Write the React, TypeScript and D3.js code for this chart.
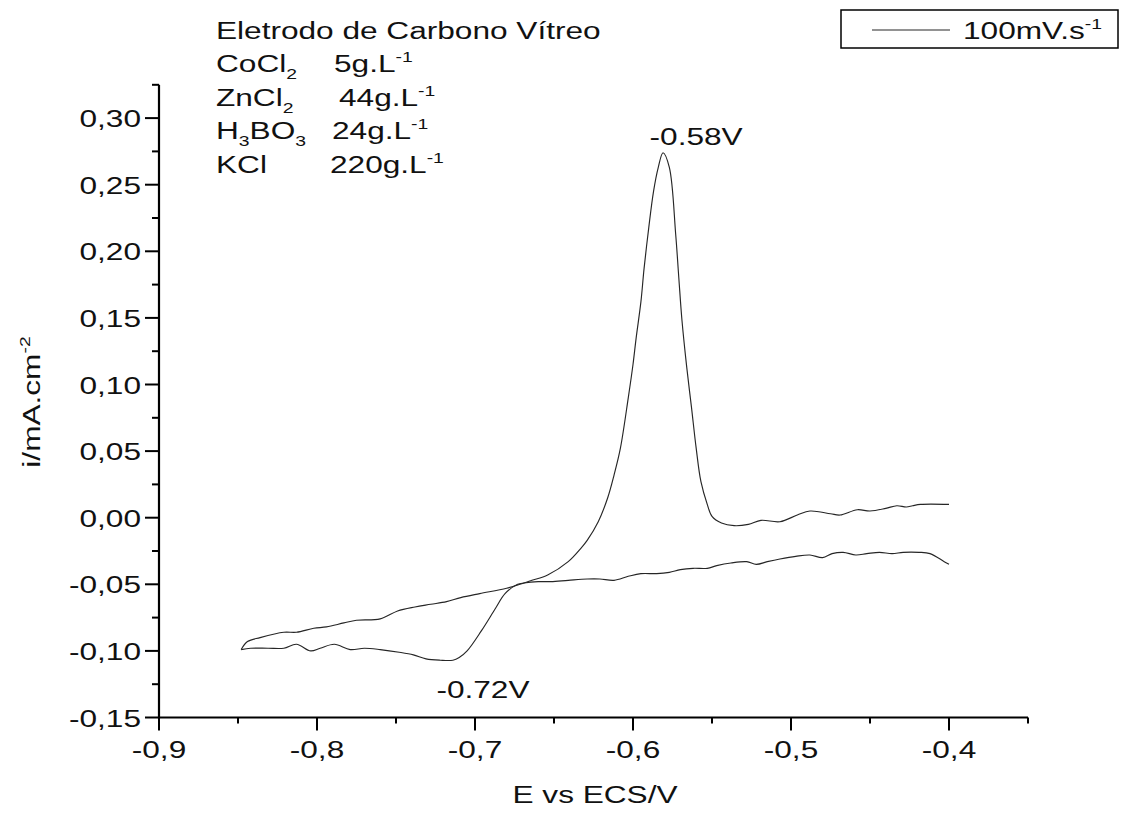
import React from "react";
import * as d3 from "d3";

// Cathodic sweep: from -0.40 V towards -0.85 V (E in V, i in mA.cm-2)
const cathodicE = [-0.400, -0.403, -0.412, -0.419, -0.429, -0.436, -0.444, -0.452, -0.459, -0.467, -0.474, -0.480, -0.488, -0.497, -0.507, -0.515, -0.522, -0.528, -0.538, -0.547, -0.553, -0.562, -0.570, -0.577, -0.585, -0.595, -0.603, -0.612, -0.621, -0.629, -0.641, -0.652, -0.660, -0.669, -0.673, -0.681, -0.687, -0.696, -0.705, -0.710, -0.714, -0.722, -0.731, -0.739, -0.748, -0.760, -0.770, -0.779, -0.789, -0.798, -0.804, -0.813, -0.821, -0.831, -0.842, -0.848];
const cathodicI = [-0.035, -0.033, -0.027, -0.026, -0.026, -0.027, -0.026, -0.027, -0.028, -0.026, -0.027, -0.030, -0.028, -0.029, -0.031, -0.033, -0.035, -0.033, -0.034, -0.036, -0.038, -0.038, -0.039, -0.041, -0.042, -0.042, -0.044, -0.047, -0.046, -0.046, -0.047, -0.048, -0.048, -0.049, -0.050, -0.057, -0.068, -0.085, -0.100, -0.105, -0.107, -0.107, -0.106, -0.103, -0.101, -0.099, -0.098, -0.099, -0.095, -0.098, -0.100, -0.095, -0.098, -0.098, -0.098, -0.099];

// Anodic sweep: from -0.85 V back to -0.40 V
const anodicE = [-0.848, -0.844, -0.836, -0.821, -0.813, -0.802, -0.794, -0.783, -0.775, -0.760, -0.749, -0.738, -0.728, -0.718, -0.709, -0.697, -0.680, -0.669, -0.664, -0.654, -0.641, -0.633, -0.629, -0.622, -0.616, -0.612, -0.608, -0.603, -0.600, -0.598, -0.595, -0.593, -0.590, -0.587, -0.584, -0.581, -0.577, -0.573, -0.571, -0.569, -0.566, -0.563, -0.560, -0.557, -0.553, -0.550, -0.544, -0.536, -0.527, -0.519, -0.507, -0.496, -0.488, -0.475, -0.469, -0.458, -0.450, -0.440, -0.433, -0.427, -0.423, -0.418, -0.400];
const anodicI = [-0.099, -0.093, -0.090, -0.086, -0.086, -0.083, -0.082, -0.079, -0.077, -0.076, -0.070, -0.067, -0.065, -0.063, -0.060, -0.057, -0.053, -0.049, -0.047, -0.043, -0.033, -0.023, -0.017, -0.003, 0.015, 0.032, 0.052, 0.090, 0.115, 0.135, 0.162, 0.187, 0.218, 0.245, 0.263, 0.274, 0.263, 0.213, 0.180, 0.148, 0.113, 0.083, 0.052, 0.027, 0.010, 0.001, -0.004, -0.006, -0.005, -0.002, -0.003, 0.002, 0.005, 0.003, 0.002, 0.006, 0.005, 0.007, 0.009, 0.008, 0.009, 0.010, 0.010];

const xMajorTicks = [-0.9, -0.8, -0.7, -0.6, -0.5, -0.4];
const xMinorTicks = [-0.85, -0.75, -0.65, -0.55, -0.45, -0.35];
const yMajorTicks = [-0.15, -0.10, -0.05, 0.0, 0.05, 0.10, 0.15, 0.20, 0.25, 0.30];
const yMinorTicks = [-0.125, -0.075, -0.025, 0.025, 0.075, 0.125, 0.175, 0.225, 0.275, 0.325];

const peakLabels = [
  { E: -0.58, text: "-0.58V" },
  { E: -0.72, text: "-0.72V" },
];

const FONT = "'Liberation Sans', Arial, sans-serif";
const FS = 24.5;
const SUB = 15;
const SX = 1.29;

function T(props: { x: number; y: number; anchor?: string; rotate?: number; children: React.ReactNode; size?: number }) {
  const { x, y, anchor = "start", rotate = 0, children, size = FS } = props;
  return (
    <text
      transform={`translate(${x},${y}) rotate(${rotate}) scale(${SX},1)`}
      fontSize={size}
      textAnchor={anchor}
      fill="#111"
    >
      {children}
    </text>
  );
}

export default function App() {
  const W = 1122, H = 821;
  const x = d3.scaleLinear().domain([-0.9, -0.35]).range([159, 1028]);
  const y = d3.scaleLinear().domain([-0.15, 0.325]).range([717.5, 84.8]);

  const line = d3
    .line<[number, number]>()
    .x((d) => x(d[0]))
    .y((d) => y(d[1]))
    .curve(d3.curveCatmullRom.alpha(0.5));

  const cath = cathodicE.map((e, i) => [e, cathodicI[i]] as [number, number]);
  const anod = anodicE.map((e, i) => [e, anodicI[i]] as [number, number]);

  const fmtY = (v: number) => d3.format(".2f")(v).replace(".", ",").replace("−", "-");
  const fmtX = (v: number) => d3.format(".1f")(v).replace(".", ",").replace("−", "-");

  const x0 = x(-0.9);
  const yB = y(-0.15);

  return (
    <svg width={W} height={H} style={{ position: "absolute", left: 0, top: 0, background: "#fff" }} fontFamily={FONT}>
      <rect x={0} y={0} width={W} height={H} fill="#fff" />
      {/* curves */}
      <path d={line(cath) || ""} fill="none" stroke="#262626" strokeWidth={1.15} />
      <path d={line(anod) || ""} fill="none" stroke="#262626" strokeWidth={1.15} />

      {/* axes */}
      <line x1={x0} x2={x0} y1={y(0.325)} y2={yB + 1} stroke="#000" strokeWidth={2.2} />
      <line x1={x0 - 1} x2={x(-0.35)} y1={yB} y2={yB} stroke="#000" strokeWidth={2.2} />

      {yMajorTicks.map((t) => (
        <g key={"ym" + t}>
          <line x1={x0 - 14} x2={x0} y1={y(t)} y2={y(t)} stroke="#000" strokeWidth={2} />
          <T x={x0 - 18} y={y(t) + 9} anchor="end">{fmtY(t)}</T>
        </g>
      ))}
      {yMinorTicks.map((t) => (
        <line key={"yn" + t} x1={x0 - 7} x2={x0} y1={y(t)} y2={y(t)} stroke="#000" strokeWidth={2} />
      ))}
      {xMajorTicks.map((t) => (
        <g key={"xm" + t}>
          <line x1={x(t)} x2={x(t)} y1={yB} y2={yB + 13} stroke="#000" strokeWidth={2} />
          <T x={x(t)} y={yB + 40} anchor="middle">{fmtX(t)}</T>
        </g>
      ))}
      {xMinorTicks.map((t) => (
        <line key={"xn" + t} x1={x(t)} x2={x(t)} y1={yB} y2={yB + 6} stroke="#000" strokeWidth={2} />
      ))}

      {/* axis titles */}
      <T x={595} y={803} anchor="middle">E vs ECS/V</T>
      <T x={40} y={402} anchor="middle" rotate={-90}>
        i/mA.cm<tspan dy={-10} fontSize={SUB}>-2</tspan>
      </T>

      {/* conditions */}
      <T x={216} y={39}>Eletrodo de Carbono Vítreo</T>
      <T x={216} y={72}>CoCl<tspan dy={7} fontSize={SUB}>2</tspan></T>
      <T x={334} y={72}>5g.L<tspan dy={-10} fontSize={SUB}>-1</tspan></T>
      <T x={216} y={106}>ZnCl<tspan dy={7} fontSize={SUB}>2</tspan></T>
      <T x={339} y={106}>44g.L<tspan dy={-10} fontSize={SUB}>-1</tspan></T>
      <T x={216} y={139}>H<tspan dy={7} fontSize={SUB}>3</tspan><tspan dy={-7}>BO</tspan><tspan dy={7} fontSize={SUB}>3</tspan></T>
      <T x={332} y={139}>24g.L<tspan dy={-10} fontSize={SUB}>-1</tspan></T>
      <T x={216} y={173}>KCl</T>
      <T x={330} y={173}>220g.L<tspan dy={-10} fontSize={SUB}>-1</tspan></T>

      {/* peak annotations */}
      <T x={x(peakLabels[0].E) - 15} y={145}>{peakLabels[0].text}</T>
      <T x={x(peakLabels[1].E) - 7} y={698}>{peakLabels[1].text}</T>

      {/* legend */}
      <rect x={841} y={10} width={277} height={38} fill="#fff" stroke="#000" strokeWidth={1.5} />
      <line x1={872} x2={950} y1={30} y2={30} stroke="#262626" strokeWidth={1.15} />
      <T x={963} y={39}>100mV.s<tspan dy={-10} fontSize={SUB}>-1</tspan></T>
    </svg>
  );
}
